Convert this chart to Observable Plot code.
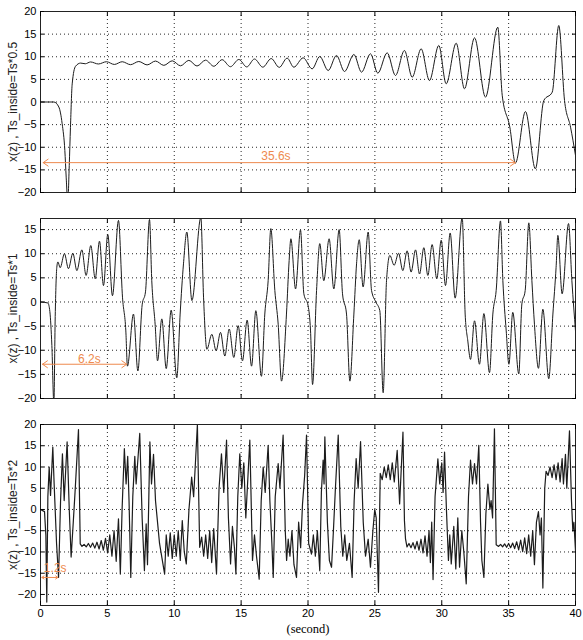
<!DOCTYPE html>
<html><head><meta charset="utf-8">
<script src="https://cdn.jsdelivr.net/npm/d3@7"></script>
<script src="https://cdn.jsdelivr.net/npm/@observablehq/plot@0.6"></script>
<style>
body{margin:0;background:#fff;}
#chart{position:relative;width:583px;height:640px;background:#fff;}
#chart svg{position:absolute;left:0;}
</style></head><body><div id="chart"></div>
<script>
const xTicks = [0,5,10,15,20,25,30,35,40];
const yTicksA = [-20,-15,-10,-5,0,5,10,15,20];
const yTicksB = [-20,-15,-10,-5,0,5,10,15];
const yLabels = ["x(z) , Ts_inside=Ts*0.5","x(z) , Ts_inside=Ts*1","x(z) , Ts_inside=Ts*2"];
const xLabel = "(second)";

// panel 1 : [t, value]
const p1 = [[0,0],[1.0,0],[1.37,-1.1],[1.62,-4.8],[1.82,-10.7],[1.92,-16.6],[2.04,-22],[2.15,-14],[2.24,-5.6],[2.37,4.0],[2.62,7.9],[3.0,8.6],[3.35,8.45],
[3.74,8.85],[4.33,8.4],[4.93,8.9],[5.52,8.3],[6.11,8.9],[6.73,8.25],[7.35,8.95],[7.97,8.2],[8.6,9.05],[9.22,8.1],[9.85,9.1],[10.47,8.0],[11.09,9.2],[11.7,7.95],[12.34,9.25],[12.96,7.9],[13.58,9.35],[14.2,7.8],[14.83,9.4],[15.42,7.75],[16.0,9.5],[16.62,7.7],[17.25,9.6],[17.85,7.65],[18.44,9.7],
[18.94,7.69],[19.64,9.76],[20.31,7.33],[20.88,10.05],[21.51,6.96],[22.13,10.28],[22.73,6.74],[23.43,10.5],[24.0,6.59],[24.67,10.65],[25.22,6.37],[25.92,10.87],[26.54,5.86],[27.21,11.38],[27.79,5.49],[28.46,11.75],[29.08,4.75],[29.78,12.49],[30.33,4.02],[31.08,13.0],[31.7,2.92],[32.45,14.18],[33.27,1.07],[34.19,16.53],[34.52,1.5],[35.09,-5.56],[35.51,-13.5],[36.26,-2.1],[37.0,-14.77],[37.63,0.33],[38.26,2.17],[38.75,16.9],[39.18,0.33],[39.63,-5.56],[40,-11.8]];

// panel 2
const p2 = [[0,0],[0.55,-0.2],[0.7,-2],[0.85,-9],[1.0,-21],[1.1,-3],[1.22,7.2],[1.3,8.3],
[1.47,7.1],[1.79,10.0],[2.09,6.9],[2.42,10.1],[2.72,6.5],[3.09,10.8],[3.41,5.5],[3.76,11.7],[4.09,4.8],[4.41,12.6],[4.71,3.4],[5.03,14.0],[5.38,1.3],[5.83,16.9],
[6.13,1.0],[6.38,-6.0],[6.5,-13.3],[6.95,-2.5],[7.28,-14.3],[7.6,-0.6],[7.85,2.1],[8.15,17.1],[8.32,4.4],[8.57,-4.6],[8.75,-12.2],[9.07,-3.5],[9.4,-13.8],[9.77,-1.7],[10.19,-15.7],[10.44,-2.5],[10.69,7.9],[10.94,14.5],[11.32,0.3],[11.99,17.5],[12.19,1.0],[12.44,-9.8],
[12.81,-6.7],[13.13,-10.1],[13.46,-6.3],[13.78,-11.2],[14.11,-5.6],[14.45,-11.5],[14.78,-4.9],[15.1,-12.2],[15.45,-3.75],[15.78,-13.3],[16.1,-1.8],[16.52,-15.4],[16.77,-2.5],[17.02,4.4],[17.22,15.2],[17.52,2.4],[17.77,-4.6],[18.02,-16.4],[18.39,-2.5],[18.59,8.6],[18.72,13.1],[19.07,2.7],[19.44,14.9],[19.69,1.7],[20.01,-0.8],[20.19,-6.0],[20.34,-17.1],[20.64,2.4],[20.88,12.1],[21.18,4.4],[21.58,13.1],[21.93,2.7],[22.33,15.0],[22.58,1.7],[22.88,-2.5],[23.13,-16.4],[23.43,-2.5],[23.63,7.9],[23.83,12.9],[24.12,3.1],[24.5,14.5],[24.75,2.4],[25.07,0],[25.37,-1.8],[25.62,-18.8],[25.87,4.4],[26.12,9.65],[26.44,7.6],[26.77,10.1],[27.09,6.5],[27.41,10.6],[27.71,6.2],[28.04,10.8],[28.34,5.8],[28.66,11.25],[28.96,5.5],[29.28,11.9],[29.63,4.8],[29.96,12.8],[30.28,3.4],[30.63,14.3],[31.0,0.8],[31.53,17.5],[31.75,-2.5],[31.95,-8.1],[32.15,-11.9],[32.45,-3.9],[32.82,-12.9],[33.15,-2.4],[33.57,-14.65],[33.82,-2.5],[34.07,2.4],[34.39,16.8],[34.57,4.4],[34.82,-6.0],[35.02,-12.9],[35.31,-2.15],[35.76,-14.9],[35.99,-0.4],[36.24,2.4],[36.51,16.4],[36.74,4.4],[36.93,-4.6],[37.23,-13.75],[37.56,-1.5],[38.0,-15.9],[38.31,-2.5],[38.55,7.2],[38.68,13.8],[39.0,1.7],[39.48,16.25],[39.73,4.4],[40,-6]];

// panel 3
const p3 = [[0,0],[0.3,-0.5],[0.4,-6],[0.47,-21.8],[0.55,3],[0.65,10],[0.75,3.3],[0.92,14.7],[1.02,6],[1.2,-8],[1.35,-16],[1.5,2],[1.64,13.1],[1.77,2.1],[1.99,15.9],[2.15,0],[2.29,-11.2],[2.45,-3],[2.6,5],[2.84,18.8],[2.97,-8.1],
[3.1,-8.7],[3.26,-8.2],[3.42,-8.8],[3.58,-8.0],[3.74,-8.9],[3.9,-7.9],[4.06,-9.1],[4.22,-7.7],[4.38,-9.3],[4.54,-7.3],[4.7,-9.6],[4.86,-6.8],[5.02,-10.2],[5.18,-6.0],[5.34,-11.0],[5.5,-5.0],[5.66,-12.2],[5.83,-2.2],[5.97,-15.2],[6.1,0],[6.27,14.3],[6.4,6],[6.52,12.5],[6.62,2],[6.75,-16],[6.9,3],[7.05,12.5],[7.15,6],[7.42,17.9],[7.6,-2],[7.77,-14.4],[7.9,-3.4],[8.0,-13],[8.1,3],[8.18,15.9],[8.3,6],[8.45,13],[8.6,2],[8.9,-8],[9.28,-15.2],[9.4,-6],[9.55,-11],[9.7,-5.5],[9.85,-11.5],[10.0,-6],[10.15,-11],[10.3,-5],[10.45,-12],[10.6,-2.6],[10.75,-10],[10.9,-12.8],[11.1,0],[11.3,7.6],[11.45,3],[11.6,12],[11.73,20],[11.9,-8.9],[12.05,-6.5],[12.2,-11],[12.35,-6],[12.5,-11.5],[12.65,-5],[12.8,-12.5],[12.95,-4.5],
[13.16,-15.2],[13.35,5],[13.53,13.1],[13.7,4],[13.91,16.3],[14.05,-2],[14.21,-12.8],[14.35,-4],[14.5,-9],[14.61,-15.2],[14.75,3],[14.9,13.1],[15.05,5],[15.2,11],[15.35,-2],[15.65,16.3],[15.85,-12],[16.0,-6],[16.15,-11],[16.35,-16.4],
[16.5,2],[16.65,10],[16.8,4],[17.02,15.1],[17.15,2],[17.3,-8],[17.4,-16],[17.55,3],[17.77,10.8],[17.9,5],[18.14,17.5],[18.3,-5],[18.4,-12],[18.52,-7],[18.65,-11],[18.8,-5],[18.95,-13],[19.14,-16],[19.3,-3],[19.45,-9],[19.59,1.3],[19.75,8],[19.89,17.5],[20.05,-8],[20.26,-10.5],[20.4,-6],[20.55,-11],[20.7,-5],[20.88,-14.4],[21.0,4],[21.13,11.6],[21.2,6],[21.26,17.1],[21.45,-3],[21.6,-12],[21.76,-13.6],[21.9,-5],[22.05,5],[22.26,17.5],[22.45,-4],[22.6,-11],[22.75,-6],[22.9,-12],[23.1,-8],[23.3,-16],[23.45,2],[23.6,12],[23.75,5],[23.93,16],[24.13,-3],[24.3,-11],[24.5,-7],[24.67,-13.6],[24.85,-5],[24.99,0],[25.1,-2],[25.27,-19.5],[25.4,8.5],[25.55,7],[25.7,10],[25.85,7.5],[26.0,10.5],[26.15,7],[26.3,11],[26.45,6.5],[26.67,13.9],[26.85,1.3],[27.1,18.2],[27.21,-2.6],[27.29,-6.9],[27.4,-8.8],[27.55,-8.0],[27.7,-9.0],[27.85,-7.8],[28.0,-9.3],[28.15,-7.5],[28.3,-9.6],[28.45,-7.0],[28.6,-10.2],[28.75,-6.2],[28.9,-11],[29.05,-5],[29.15,-12.5],[29.25,-3],[29.35,-16.5],[29.5,3],[29.71,11.9],[29.85,6],[30.0,11],[30.1,4],[30.21,13.5],[30.35,0],[30.5,-12],[30.6,-6],[30.71,-12.8],[30.9,-4],[31.05,-14],[31.2,-2],[31.33,-13.6],[31.5,-5],[31.65,-10],[31.83,-17.5],[32.0,3],[32.15,11.6],[32.3,6],[32.45,10.8],[32.6,6],[32.77,15.1],[32.9,-3],[33.0,-12],[33.15,-16],[33.3,-1],[33.45,6],[33.6,0],[33.69,2.1],[33.8,-2],[33.94,19],[34.07,-8.3],[34.25,-8.7],[34.4,-8.2],[34.55,-8.8],[34.7,-8.1],[34.85,-8.9],[35.0,-8.0],[35.15,-9.0],[35.3,-7.9],[35.45,-9.2],[35.6,-7.6],[35.75,-9.5],[35.9,-7.2],[36.05,-9.9],[36.2,-6.7],[36.35,-10.4],[36.5,-6],[36.65,-11],[36.8,-5],[36.93,-13],[37.08,-3],[37.23,-0.5],[37.35,-6],[37.45,-2],[37.56,-18.5],[37.7,5],[37.8,9],[37.95,8],[38.1,10],[38.25,7.5],[38.4,10.5],[38.55,7],[38.7,11],[38.85,6.5],[39.0,12],[39.1,6],[39.25,13],[39.35,5],[39.55,18.5],[39.7,2],[39.8,-5],[39.88,-3],[40,-9.7]];

// annotations: [x1, x2, yArrow, xText, yText, text]
const notes = [
  [0.2, 35.5, -13.4, 17.6, -12.0, "35.6s"],
  [0.15, 6.45, -12.9, 3.66, -11.9, "6.2s"],
  [0.1, 1.3, -16.0, 1.1, -13.8, "1.2s"]
];

const orange = "#ee8a4e";
const font = "'Liberation Sans', Arial, sans-serif";

const panels = [
  {data:p1, top:0, height:205, mt:11, mb:13, ydom:[-20,20], yt:yTicksA, curve:"monotone-x", showX:false, sw:1},
  {data:p2, top:205, height:205, mt:13, mb:12, ydom:[-20,17.3], yt:yTicksB, curve:"monotone-x", showX:false, sw:1},
  {data:p3, top:410, height:230, mt:14, mb:35, ydom:[-22.6,20], yt:yTicksA, curve:"linear", showX:true, sw:1.2}
];

const chart = document.getElementById("chart");
panels.forEach((p, i) => {
  const rows = p.data.map(([t, v]) => ({t, v}));
  const n = notes[i];
  const mid = (n[0] + n[1]) / 2;
  const arrows = [{xa: mid, xb: n[0], y: n[2]}, {xa: mid, xb: n[1], y: n[2]}];
  const marks = [
    Plot.gridX(xTicks, {stroke:"#000", strokeOpacity:0.85, strokeDasharray:"1,3"}),
    Plot.gridY(p.yt, {stroke:"#000", strokeOpacity:0.85, strokeDasharray:"1,3"}),
    Plot.line(rows, {x:"t", y:"v", curve:p.curve, stroke:"#1c1c1c", strokeWidth:p.sw, clip:true}),
    Plot.arrow(arrows, {x1:"xa", x2:"xb", y1:"y", y2:"y", stroke:orange, strokeWidth:1, headLength:9, headAngle:70}),
    Plot.text([n], {x:d=>d[3], y:d=>d[4], text:d=>d[5], fill:orange, fontSize:12, fontFamily:font}),
    Plot.frame({stroke:"#222"}),
    Plot.axisY(p.yt, {anchor:"left", tickSize:-4, tickPadding:8, label:null}),
    Plot.text([yLabels[i]], {frameAnchor:"left", rotate:-90, dx:-27, textAnchor:"middle", lineAnchor:"middle", text:d=>d, fontSize:12, fontFamily:font, fill:"#222"}),
    Plot.axisY(p.yt, {anchor:"right", tickSize:-4, tickFormat:()=>"", label:null}),
    Plot.axisX(xTicks, {anchor:"top", tickSize:-4, tickFormat:()=>"", label:null}),
    Plot.axisX(xTicks, {anchor:"bottom", tickSize:-4, tickPadding:8, tickFormat: p.showX ? (d=>String(d)) : (()=>""), label:null})
  ];
  if (p.showX) {
    marks.push(Plot.text([xLabel], {frameAnchor:"bottom", dy:19, lineAnchor:"top", text:d=>d, fontFamily:"'Liberation Serif', 'Times New Roman', serif", fontSize:12.5, fill:"#000"}));
  }
  const svg = Plot.plot({
    width:583, height:p.height,
    marginLeft:40, marginRight:8, marginTop:p.mt, marginBottom:p.mb,
    x:{domain:[0,40]}, y:{domain:p.ydom},
    style:{fontFamily:font, fontSize:"11px", background:"#fff", color:"#000", overflow:"visible"},
    marks
  });
  svg.style.top = p.top + "px";
  chart.appendChild(svg);
});
</script></body></html>
